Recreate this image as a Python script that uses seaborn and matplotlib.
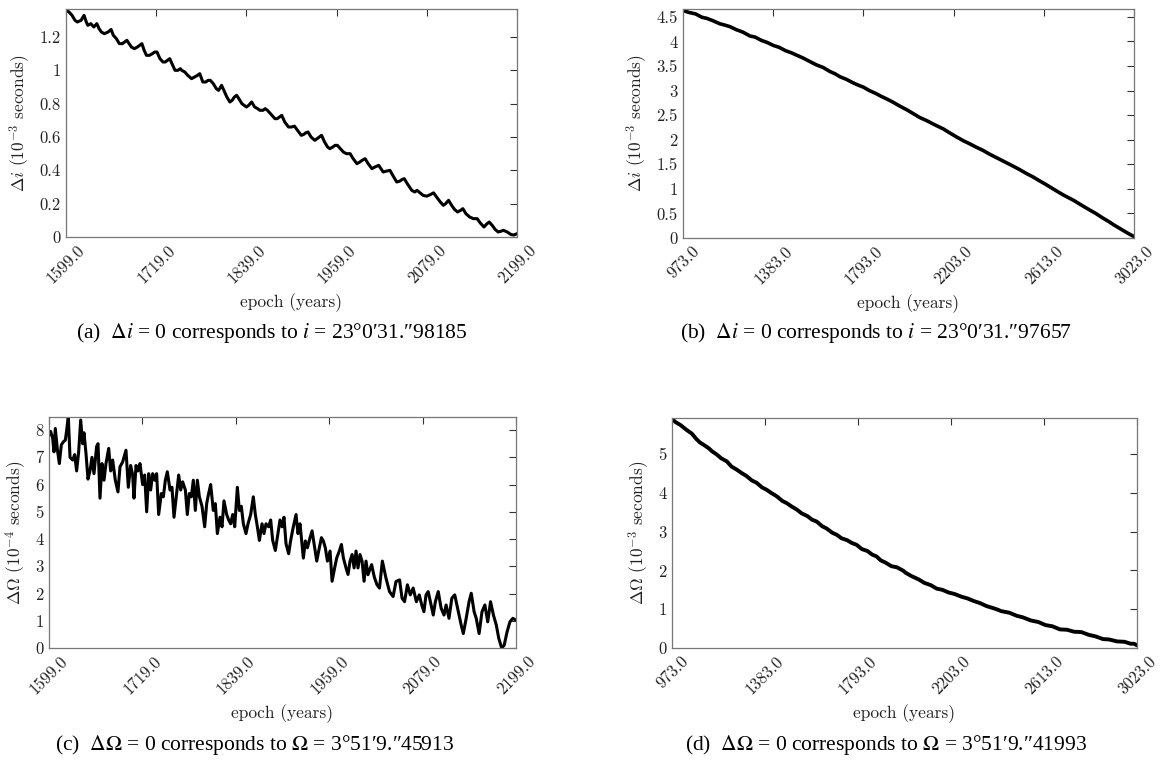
import numpy as np
import pandas as pd
import matplotlib
matplotlib.use("Agg")
import matplotlib.pyplot as plt
import seaborn as sns

# ---------------- data ----------------
a_years = [1599, 1603, 1607, 1611, 1614, 1619, 1623, 1626, 1628, 1632, 1636, 1640, 1643, 1646,
           1650, 1655, 1659, 1662, 1666, 1670, 1674, 1677, 1680, 1683, 1686, 1690, 1694, 1697,
           1700, 1703, 1706, 1710, 1714, 1717, 1720, 1724, 1728, 1731, 1734, 1737, 1740, 1744,
           1748, 1751, 1753, 1757, 1761, 1766, 1770, 1774, 1777, 1781, 1785, 1788, 1791, 1795,
           1799, 1802, 1806, 1809, 1813, 1817, 1820, 1823, 1826, 1829, 1833, 1839, 1842, 1846,
           1850, 1854, 1857, 1861, 1864, 1867, 1871, 1877, 1880, 1883, 1886, 1890, 1895, 1899,
           1903, 1907, 1912, 1915, 1918, 1921, 1925, 1930, 1933, 1936, 1939, 1943, 1947, 1950,
           1954, 1957, 1960, 1964, 1968, 1972, 1977, 1981, 1986, 1990, 1993, 1997, 2001, 2006,
           2010, 2015, 2018, 2021, 2025, 2030, 2035, 2039, 2043, 2046, 2049, 2053, 2059, 2063,
           2066, 2070, 2074, 2079, 2084, 2088, 2092, 2097, 2101, 2104, 2108, 2112, 2116, 2120,
           2124, 2127, 2131, 2136, 2141, 2146, 2150, 2155, 2158, 2162, 2166, 2170, 2174, 2178,
           2181, 2186, 2191, 2195, 2199]
a_vals = [1.36, 1.35, 1.33, 1.30, 1.29, 1.30, 1.33, 1.29, 1.27, 1.28, 1.26, 1.28, 1.25, 1.23,
          1.22, 1.23, 1.245, 1.21, 1.19, 1.16, 1.16, 1.17, 1.18, 1.16, 1.14, 1.13, 1.14, 1.15,
          1.16, 1.12, 1.09, 1.09, 1.10, 1.11, 1.11, 1.07, 1.05, 1.05, 1.06, 1.07, 1.04, 1.00,
          1.00, 1.01, 1.00, 0.99, 0.97, 0.95, 0.96, 0.97, 0.98, 0.93, 0.93, 0.94, 0.94, 0.92,
          0.89, 0.88, 0.91, 0.88, 0.84, 0.81, 0.82, 0.84, 0.85, 0.83, 0.80, 0.78, 0.79, 0.81,
          0.78, 0.77, 0.76, 0.76, 0.77, 0.76, 0.74, 0.71, 0.71, 0.72, 0.73, 0.69, 0.66, 0.66,
          0.665, 0.64, 0.61, 0.615, 0.625, 0.63, 0.60, 0.58, 0.59, 0.60, 0.61, 0.57, 0.54, 0.53,
          0.54, 0.55, 0.55, 0.53, 0.51, 0.50, 0.50, 0.47, 0.44, 0.45, 0.46, 0.47, 0.44, 0.41,
          0.42, 0.43, 0.41, 0.39, 0.395, 0.40, 0.36, 0.33, 0.335, 0.345, 0.35, 0.32, 0.28, 0.27,
          0.28, 0.265, 0.25, 0.245, 0.255, 0.265, 0.24, 0.21, 0.19, 0.20, 0.22, 0.19, 0.165, 0.15,
          0.16, 0.17, 0.14, 0.12, 0.11, 0.11, 0.085, 0.06, 0.075, 0.09, 0.07, 0.045, 0.03, 0.035,
          0.04, 0.03, 0.015, 0.012, 0.02]

b_years = [973, 1000, 1030, 1060, 1081, 1110, 1140, 1165, 1187, 1215, 1245, 1278, 1300, 1330,
           1355, 1383, 1410, 1440, 1465, 1490, 1520, 1550, 1581, 1610, 1640, 1665, 1687, 1715,
           1745, 1770, 1793, 1820, 1850, 1875, 1899, 1925, 1960, 1990, 2020, 2050, 2080, 2110,
           2156, 2185, 2215, 2247, 2275, 2305, 2338, 2365, 2400, 2444, 2470, 2500, 2535, 2565,
           2595, 2626, 2655, 2700, 2751, 2780, 2810, 2849, 2880, 2910, 2930, 2960, 2990, 3010,
           3023]
b_vals = [4.63, 4.59, 4.56, 4.49, 4.47, 4.42, 4.36, 4.33, 4.30, 4.24, 4.19, 4.11, 4.09, 4.02,
          3.98, 3.92, 3.88, 3.81, 3.77, 3.72, 3.66, 3.59, 3.52, 3.47, 3.39, 3.34, 3.28, 3.23,
          3.16, 3.11, 3.07, 3.00, 2.94, 2.88, 2.83, 2.77, 2.68, 2.61, 2.53, 2.45, 2.39, 2.32,
          2.22, 2.14, 2.06, 1.98, 1.92, 1.85, 1.78, 1.71, 1.63, 1.53, 1.47, 1.40, 1.31, 1.24,
          1.16, 1.08, 1.00, 0.88, 0.76, 0.68, 0.60, 0.50, 0.41, 0.33, 0.27, 0.19, 0.11, 0.06,
          0.03]

c_years = [1599, 1601.1, 1603.7, 1605.4, 1607.1, 1609.7, 1612.3, 1614.8, 1617.4, 1620.0, 1621.7,
           1623.8, 1626.0, 1629.4, 1632.0, 1634.5, 1637.1, 1639.7, 1642.2, 1644.0, 1646.5,
           1649.1, 1651.7, 1654.2, 1656.8, 1660.2, 1662.0, 1664.5, 1667.1, 1669.7, 1672.2,
           1675.7, 1678.2, 1680.8, 1684.2, 1687.6, 1690.2, 1693.6, 1697.9, 1700.9, 1703.9,
           1706.5, 1708.2, 1710.8, 1713.3, 1715.9, 1719.3, 1721.9, 1724.5, 1727.1, 1729.6,
           1732.2, 1734.8, 1737.3, 1739.9, 1743.3, 1745.9, 1748.5, 1751.0, 1754.5, 1757.0,
           1759.6, 1763.0, 1765.6, 1768.2, 1770.7, 1774.2, 1776.7, 1779.3, 1781.9, 1784.4,
           1787.0, 1789.6, 1792.2, 1795.6, 1799.0, 1801.6, 1804.1, 1806.7, 1810.1, 1812.7,
           1815.3, 1818.7, 1821.3, 1823.8, 1827.3, 1829.8, 1832.4, 1835.0, 1837.6, 1841.0,
           1843.6, 1846.1, 1848.7, 1852.1, 1854.7, 1858.1, 1861.5, 1864.1, 1866.7, 1869.3,
           1872.7, 1875.2, 1877.8, 1881.2, 1883.8, 1886.4, 1889.8, 1893.2, 1895.8, 1898.4,
           1900.9, 1903.5, 1906.9, 1909.5, 1912.9, 1916.4, 1918.9, 1921.5, 1925.8, 1928.4,
           1931.0, 1934.4, 1937.0, 1940.4, 1943.0, 1945.5, 1949.0, 1951.5, 1954.0, 1956.7,
           1960.1, 1962.7, 1966.0, 1968.7, 1972.0, 1974.7, 1977.2, 1980.6, 1983.2, 1985.8,
           1988.4, 1991.0, 1993.5, 1996.0, 1998.6, 2001.2, 2003.8, 2006.3, 2008.8, 2013.5,
           2017.0, 2020.4, 2023.6, 2027.3, 2031.9, 2036.5, 2041.1, 2044.8, 2049.4, 2052.6,
           2055.8, 2059.5, 2063.2, 2066.9, 2071.0, 2074.7, 2077.9, 2080.7, 2083.4, 2086.2,
           2089.9, 2092.7, 2095.4, 2099.1, 2102.8, 2106.5, 2109.2, 2112.9, 2116.6, 2120.3,
           2124.0, 2128.6, 2131.3, 2135.0, 2138.7, 2141.5, 2145.2, 2147.9, 2151.6, 2155.3,
           2159.0, 2162.7, 2166.3, 2170.0, 2173.7, 2176.9, 2180.6, 2183.8, 2187.5, 2191.2,
           2194.9, 2199.0]
c_vals = [7.8, 7.95, 7.7, 7.2, 8.06, 7.3, 6.77, 7.45, 7.57, 7.63, 8.0,
          8.5, 7.0, 6.9, 7.1, 6.5, 7.2, 8.37, 7.5, 7.9, 7.15,
          6.2, 6.5, 7.0, 6.4, 7.4, 7.5, 5.5, 6.77, 6.16, 6.77,
          7.33, 6.5, 6.9, 6.16, 5.73, 6.65, 6.83, 7.26, 5.9, 6.7,
          6.35, 5.5, 6.7, 6.5, 6.77, 6.0, 6.35, 5.0, 6.4, 5.8,
          6.4, 6.16, 6.4, 4.9, 5.67, 5.55, 6.16, 6.47, 5.8, 5.9,
          4.8, 5.67, 6.35, 5.8, 6.1, 5.8, 4.9, 5.67, 5.55, 6.16,
          5.05, 6.16, 5.55, 5.2, 4.45, 5.3, 5.67, 6.0, 5.05, 5.3,
          4.2, 4.8, 4.45, 5.4, 4.9, 4.7, 4.56, 4.9, 4.45, 5.9,
          5.05, 5.2, 4.56, 4.2, 4.56, 4.9, 5.55, 4.9, 4.45, 3.95,
          4.56, 4.2, 4.56, 4.45, 4.7, 3.95, 3.58, 4.2, 4.7, 4.45,
          4.8, 3.83, 3.46, 3.95, 4.45, 4.9, 4.2, 4.56, 3.3, 3.93,
          3.68, 4.05, 4.3, 3.68, 3.19, 3.56, 4.05, 3.93, 3.68, 3.19,
          3.56, 2.45, 2.94, 3.31, 3.56, 3.8, 3.31, 2.94, 2.7, 3.19,
          3.43, 2.94, 3.56, 2.94, 3.43, 3.19, 2.45, 3.19, 2.69, 3.06,
          2.6, 2.32, 2.2, 3.19, 2.57, 2.07, 1.89, 2.44, 2.5, 1.83,
          1.7, 2.32, 1.95, 2.2, 1.7, 1.95, 1.58, 1.33, 1.95, 2.07,
          1.58, 1.21, 1.7, 2.07, 1.46, 1.21, 1.58, 1.09, 1.83, 1.95,
          1.46, 0.84, 0.53, 1.09, 1.7, 2.01, 1.33, 1.09, 0.53, 1.33,
          1.58, 0.96, 1.7, 1.21, 0.84, 0.35, 0.0, 0.1, 0.59, 0.96,
          1.09, 1.02]

d_years = [973, 990, 1010, 1038, 1060, 1080, 1096, 1115, 1135, 1150, 1170, 1190, 1215, 1235,
           1258, 1280, 1300, 1325, 1346, 1370, 1390, 1410, 1435, 1460, 1480, 1500, 1523, 1545,
           1570, 1590, 1611, 1635, 1655, 1680, 1699, 1720, 1745, 1765, 1787, 1810, 1835, 1855,
           1875, 1893, 1915, 1940, 1965, 1993, 2003, 2030, 2060, 2085, 2114, 2140, 2165, 2193,
           2220, 2250, 2275, 2304, 2330, 2360, 2399, 2425, 2460, 2493, 2520, 2555, 2588, 2620,
           2650, 2683, 2715, 2745, 2778, 2810, 2840, 2873, 2900, 2935, 2968, 2995, 3010, 3023]
d_vals = [5.90, 5.82, 5.75, 5.62, 5.53, 5.39, 5.30, 5.23, 5.15, 5.07, 4.99, 4.89, 4.81, 4.68,
          4.60, 4.51, 4.44, 4.32, 4.26, 4.14, 4.08, 4.00, 3.91, 3.79, 3.73, 3.65, 3.57, 3.47,
          3.40, 3.31, 3.26, 3.14, 3.08, 2.97, 2.92, 2.83, 2.78, 2.71, 2.66, 2.55, 2.50, 2.41,
          2.36, 2.26, 2.20, 2.11, 2.08, 1.99, 1.94, 1.85, 1.77, 1.68, 1.62, 1.53, 1.50, 1.43,
          1.39, 1.32, 1.28, 1.21, 1.16, 1.08, 1.01, 0.95, 0.91, 0.83, 0.79, 0.71, 0.67, 0.59,
          0.56, 0.48, 0.47, 0.42, 0.41, 0.34, 0.30, 0.23, 0.22, 0.17, 0.16, 0.11, 0.11, 0.07]

a_xticks = [1599, 1719, 1839, 1959, 2079, 2199]
b_xticks = [973, 1383, 1793, 2203, 2613, 3023]
a_yticks = [0, 0.2, 0.4, 0.6, 0.8, 1, 1.2]
b_yticks = [0, 0.5, 1, 1.5, 2, 2.5, 3, 3.5, 4, 4.5]
c_yticks = [0, 1, 2, 3, 4, 5, 6, 7, 8]
d_yticks = [0, 1, 2, 3, 4, 5]

ylabels = [r"$\Delta i$ ($10^{-3}$ seconds)", r"$\Delta i$ ($10^{-3}$ seconds)",
           r"$\Delta\Omega$ ($10^{-4}$ seconds)", r"$\Delta\Omega$ ($10^{-3}$ seconds)"]
captions = [r"(a)  $\Delta i$ = 0 corresponds to $i$ = 23°0′31.″98185",
            r"(b)  $\Delta i$ = 0 corresponds to $i$ = 23°0′31.″97657",
            r"(c)  $\Delta\Omega$ = 0 corresponds to $\Omega$ = 3°51′9.″45913",
            r"(d)  $\Delta\Omega$ = 0 corresponds to $\Omega$ = 3°51′9.″41993"]

# ---------------- style ----------------
sns.set_theme(style="white")
plt.rcParams.update({
    "font.family": ["cmr10", "DejaVu Serif"],
    "mathtext.fontset": "cm",
    "axes.unicode_minus": False,
    "axes.formatter.use_mathtext": True,
})

W, H = 1164, 771
fig = plt.figure(figsize=(W / 100, H / 100), dpi=100)
fig.patch.set_facecolor("white")


def rect(l, r, t, b):
    return [l / W, 1 - b / H, (r - l) / W, (b - t) / H]


panels = [
    dict(rect=rect(66, 517, 9, 237), x=a_years, y=a_vals, xt=a_xticks, yt=a_yticks, ymax=1.368, lw=2.2),
    dict(rect=rect(683, 1134, 9, 238), x=b_years, y=b_vals, xt=b_xticks, yt=b_yticks, ymax=4.66, lw=2.6),
    dict(rect=rect(49, 516, 417, 648), x=c_years, y=c_vals, xt=a_xticks, yt=c_yticks, ymax=8.48, lw=2.2),
    dict(rect=rect(672, 1137, 418, 648), x=d_years, y=d_vals, xt=b_xticks, yt=d_yticks, ymax=5.93, lw=2.8),
]

cap_pos = [(272, 333), (876, 333), (255, 745), (886, 745)]

for i, p in enumerate(panels):
    ax = fig.add_axes(p["rect"])
    df = pd.DataFrame({"epoch": p["x"], "val": p["y"]})
    sns.lineplot(data=df, x="epoch", y="val", ax=ax, color="black", lw=p["lw"],
                 estimator=None, sort=False)
    ax.set_xlim(p["xt"][0], p["xt"][-1])
    ax.set_ylim(0, p["ymax"])
    ax.set_xticks(p["xt"])
    ax.set_xticklabels([f"{t:.1f}" for t in p["xt"]], rotation=45)
    ax.set_yticks(p["yt"])
    ax.set_yticklabels([f"{t:g}" for t in p["yt"]])
    ax.tick_params(direction="in", top=True, right=True, length=5, width=0.8,
                   color="#333333", labelsize=12, labelcolor="#222222", pad=4)
    for s in ax.spines.values():
        s.set_color("#777777")
        s.set_linewidth(0.9)
    ax.set_xlabel("epoch (years)", fontsize=12.5, color="#222222", labelpad=5)
    ax.set_ylabel(ylabels[i], fontsize=12.5, color="#222222", labelpad=5)
    ax.grid(False)
    cx, cy = cap_pos[i]
    fig.text(cx / W, 1 - cy / H, captions[i], ha="center", va="center", fontsize=15.5,
             family=["Liberation Serif", "DejaVu Serif"], math_fontfamily="stix",
             color="black")

fig.savefig("out.png", dpi=100)
